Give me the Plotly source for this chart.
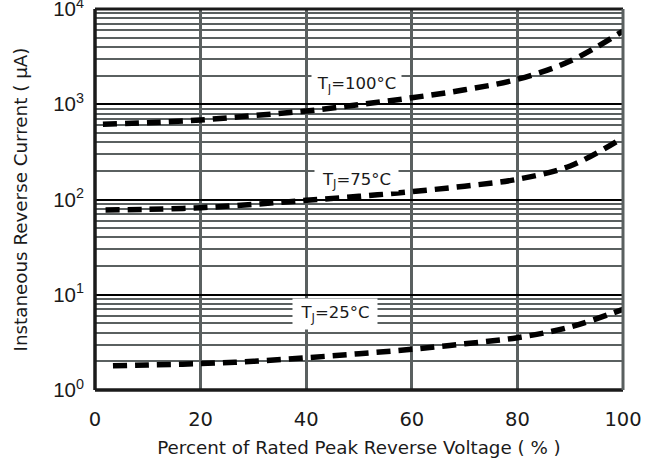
import math
import plotly.graph_objects as go

# Data (percent of rated peak reverse voltage vs instantaneous reverse current, µA)
x_100 = [1.5, 10, 20, 30, 40, 50, 60, 70, 80, 90, 100]
y_100 = [616, 640, 684, 760, 849, 990, 1170, 1420, 1827, 2844, 5874]

x_75 = [2, 10, 20, 30, 40, 50, 60, 70, 80, 90, 100]
y_75 = [77.6, 79, 82, 89, 98, 108, 121, 138, 163, 225, 446]

x_25 = [3.4, 10, 20, 30, 40, 50, 60, 70, 80, 90, 100]
y_25 = [1.79, 1.83, 1.89, 2.0, 2.18, 2.4, 2.67, 3.05, 3.54, 4.58, 7.03]

labels = ["T<sub>J</sub>=100°C", "T<sub>J</sub>=75°C", "T<sub>J</sub>=25°C"]
label_x = [49.6, 49.5, 45.45]
label_y = [1592, 158.5, 6.35]
label_w = [89, 83, 84]
label_h = [20, 21, 30]

x_ticks = [0, 20, 40, 60, 80, 100]
y_ticks = [1, 10, 100, 1000, 10000]
y_ticktext = ["10<sup>0</sup>", "10<sup>1</sup>", "10<sup>2</sup>", "10<sup>3</sup>", "10<sup>4</sup>"]

FONT = "DejaVu Sans, sans-serif"
FONT_Y = "Liberation Sans, Arial, sans-serif"
TXT = "#1a1a1a"
fig = go.Figure()
for xs, ys in [(x_100, y_100), (x_75, y_75), (x_25, y_25)]:
    fig.add_trace(go.Scatter(x=xs, y=ys, mode="lines",
                             line=dict(color="black", width=5.5, dash="14px,8px", shape="spline"),
                             showlegend=False, hoverinfo="skip"))

for t, lx, ly, w, h in zip(labels, label_x, label_y, label_w, label_h):
    fig.add_annotation(x=lx, y=math.log10(ly), xref="x", yref="y", text=t, showarrow=False,
                       bgcolor="white", width=w, height=h, borderpad=0,
                       font=dict(family=FONT, size=16.5, color=TXT))

grid_gray = "#5a6060"
fig.update_xaxes(range=[0, 100], tickvals=x_ticks, showgrid=True, gridcolor=grid_gray, gridwidth=2.5,
                 zeroline=False, showline=False, ticks="", ticklabelstandoff=15,
                 tickfont=dict(family=FONT, size=19.5, color=TXT),
                 title=dict(text="Percent of Rated Peak Reverse Voltage ( % )", standoff=11,
                            font=dict(family=FONT, size=18.3, color=TXT)))
fig.update_yaxes(type="log", range=[-0.0005, 4.0005], tickvals=y_ticks, ticktext=y_ticktext,
                 showgrid=True, gridcolor="black", gridwidth=1.8, zeroline=False, showline=False,
                 ticks="", ticklabelstandoff=10, ticklabeloverflow="allow",
                 minor=dict(dtick="D1", showgrid=True, gridcolor=grid_gray, gridwidth=1.6, ticks=""),
                 tickfont=dict(family=FONT_Y, size=20.5, color=TXT),
                 title=dict(text="Instaneous Reverse Current ( μA)", standoff=20,
                            font=dict(family=FONT, size=18.3, color=TXT)))

# frame
fig.add_shape(type="line", xref="paper", yref="paper", x0=0, x1=0, y0=0, y1=1,
              line=dict(color="#1a1a1a", width=3.5))
fig.add_shape(type="line", xref="paper", yref="paper", x0=0, x1=1, y0=0, y1=0,
              line=dict(color="#1a1a1a", width=3.5))
fig.add_shape(type="line", xref="paper", yref="paper", x0=0, x1=1, y0=1, y1=1,
              line=dict(color="#1a1a1a", width=3))
fig.add_shape(type="line", xref="paper", yref="paper", x0=1, x1=1, y0=0, y1=1,
              line=dict(color=grid_gray, width=3))

fig.update_layout(width=656, height=464, margin=dict(l=95, r=33, t=9, b=74, autoexpand=False),
                  plot_bgcolor="white", paper_bgcolor="white",
                  font=dict(family=FONT, color=TXT))
fig.write_html("out.html", config={"displayModeBar": False},
               post_script="document.body.style.margin='0';")
